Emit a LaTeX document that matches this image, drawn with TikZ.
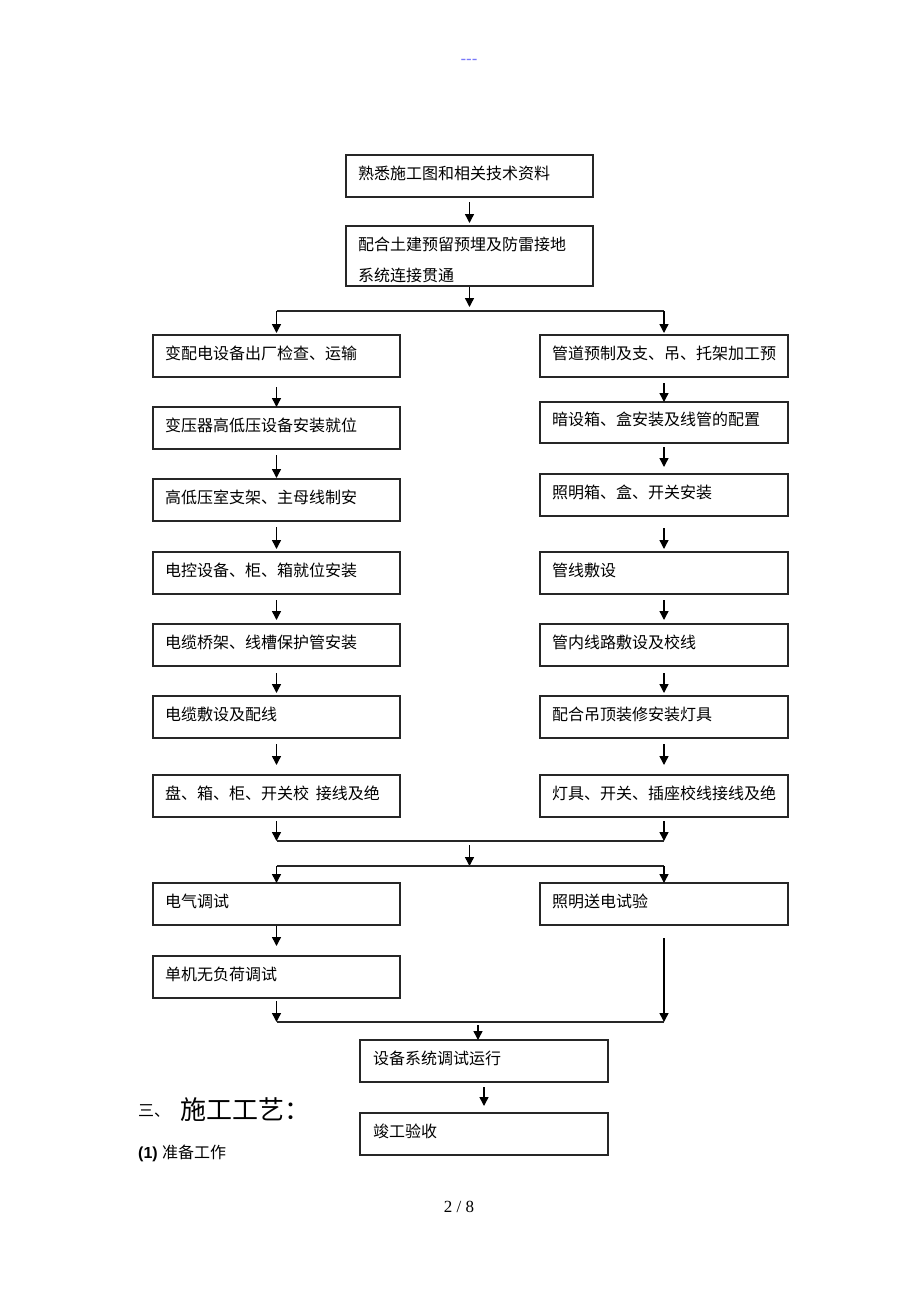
\documentclass[tikz,border=0pt]{standalone}
\usepackage{fontspec}
\setmainfont{Liberation Serif}
\newfontfamily\cjk{Noto Sans CJK SC}
\newfontfamily\lsans{Liberation Sans}
\usetikzlibrary{arrows.meta}
\definecolor{hdrblue}{RGB}{120,120,250}
\begin{document}
\begin{tikzpicture}[x=1pt,y=-1pt,
  boxbase/.style={draw=black!85, line width=1.3pt, rectangle, anchor=north west, outer sep=0pt,
    minimum height=42pt, text width=223pt, inner xsep=12pt, inner ysep=0pt, align=left,
    font=\cjk\fontsize{16}{19}\selectfont},
  box/.style={boxbase, text height=14pt, text depth=8pt},
  rbox/.style={box, text width=224pt},
  arr/.style={draw=black, line width=1.4pt, -{Triangle[length=9pt,width=9pt]}},
  ln/.style={draw=black!85, line width=1.3pt}]
\fill[white] (0,0) rectangle (920,1302);
\useasboundingbox (0,0) rectangle (920,1302);

% header and footer
\node[text=hdrblue, font=\lsans\fontsize{17}{20}\selectfont, anchor=base, inner sep=0pt] (hd) at (469,64) {-{}-{}-};
\node[anchor=base, inner sep=0pt, font=\fontsize{17}{20}\selectfont] (pg) at (459,1212) {2 / 8};

% top boxes
\node[box] (T1) at (346,155) {熟悉施工图和相关技术资料};
\node[boxbase, minimum height=60pt] (T2) at (346,226) {\rule{0pt}{22pt}配合土建预留预埋及防雷接地\\[12pt]系统连接贯通};

% left column
\node[box] (L1) at (153,335) {变配电设备出厂检查、运输};
\node[box] (L2) at (153,407) {变压器高低压设备安装就位};
\node[box] (L3) at (153,479) {高低压室支架、主母线制安};
\node[box] (L4) at (153,552) {电控设备、柜、箱就位安装};
\node[box] (L5) at (153,624) {电缆桥架、线槽保护管安装};
\node[box] (L6) at (153,696) {电缆敷设及配线};
\node[box] (L7) at (153,775) {盘、箱、柜、开关校\hspace{7pt}接线及绝};

% right column
\node[rbox] (R1) at (540,335) {管道预制及支、吊、托架加工预};
\node[rbox, minimum height=41pt] (R2) at (540,402) {暗设箱、盒安装及线管的配置};
\node[rbox] (R3) at (540,474) {照明箱、盒、开关安装};
\node[rbox] (R4) at (540,552) {管线敷设};
\node[rbox] (R5) at (540,624) {管内线路敷设及校线};
\node[rbox] (R6) at (540,696) {配合吊顶装修安装灯具};
\node[rbox] (R7) at (540,775) {灯具、开关、插座校线接线及绝};

% lower boxes
\node[box] (E1) at (153,883) {电气调试};
\node[rbox] (E2) at (540,883) {照明送电试验};
\node[box] (E3) at (153,956) {单机无负荷调试};
\node[rbox, inner xsep=13pt, text width=222pt] (F1) at (360,1040) {设备系统调试运行};
\node[rbox, inner xsep=13pt, text width=222pt] (F2) at (360,1113) {竣工验收};

% section texts
\node[anchor=base west, inner sep=0pt] (sec) at (138,1119)
  {{\cjk\fontsize{16}{19}\selectfont\raisebox{3pt}{三、}}\hspace{10pt}{\cjk\fontsize{26}{30}\selectfont 施工工艺：}};
\node[anchor=base west, inner sep=0pt] (sub) at (138,1158)
  {{\lsans\bfseries\fontsize{16}{19}\selectfont (1) }{\cjk\fontsize{16}{19}\selectfont 准备工作}};

% top connectors
\draw[arr, shorten <=5pt, shorten >=3pt] (T1.south) -- (T2.north);
\coordinate (s1) at (469.5,311);
\coordinate (s1L) at (276.5,311);
\coordinate (s1R) at (664,311);
\draw[arr, shorten <=1pt, shorten >=4pt] (T2.south) -- (s1);
\draw[ln] (s1L) -- (s1R);
\draw[arr, shorten >=2pt] (s1L) -- (L1.north);
\draw[arr, shorten >=2pt] (s1R) -- (R1.north);

% left column connectors
\draw[arr, shorten <=10pt] (L1.south) -- (L2.north);
\draw[arr, shorten <=6pt, shorten >=1pt] (L2.south) -- (L3.north);
\draw[arr, shorten <=6pt, shorten >=3pt] (L3.south) -- (L4.north);
\draw[arr, shorten <=6pt, shorten >=4pt] (L4.south) -- (L5.north);
\draw[arr, shorten <=7pt, shorten >=3pt] (L5.south) -- (L6.north);
\draw[arr, shorten <=6pt, shorten >=10pt] (L6.south) -- (L7.north);

% right column connectors
\draw[arr, shorten <=6pt] (R1.south) -- (R2.north);
\draw[arr, shorten <=4pt, shorten >=7pt] (R2.south) -- (R3.north);
\draw[arr, shorten <=12pt, shorten >=3pt] (R3.south) -- (R4.north);
\draw[arr, shorten <=6pt, shorten >=4pt] (R4.south) -- (R5.north);
\draw[arr, shorten <=7pt, shorten >=3pt] (R5.south) -- (R6.north);
\draw[arr, shorten <=6pt, shorten >=10pt] (R6.south) -- (R7.north);

% first merge and split
\coordinate (m1L) at (276.5,841);
\coordinate (m1R) at (664,841);
\coordinate (m1) at (469.5,841);
\coordinate (s2) at (469.5,866);
\coordinate (s2L) at (276.5,866);
\coordinate (s2R) at (664,866);
\draw[arr, shorten <=4pt] (L7.south) -- (m1L);
\draw[arr, shorten <=4pt] (R7.south) -- (m1R);
\draw[ln] (m1L) -- (m1R);
\draw[arr, shorten <=4pt] (m1) -- (s2);
\draw[ln] (s2L) -- (s2R);
\draw[arr] (s2L) -- (E1.north);
\draw[arr] (s2R) -- (E2.north);

% lower connectors
\draw[arr, shorten <=1pt, shorten >=10pt] (E1.south) -- (E3.north);
\coordinate (m2L) at (276.5,1022);
\coordinate (m2R) at (664,1022);
\coordinate (m2) at (478,1022);
\draw[arr, shorten <=3pt] (E3.south) -- (m2L);
\draw[arr, shorten <=13pt] (E2.south) -- (m2R);
\draw[ln] (m2L) -- (m2R);
\draw[arr, shorten <=3pt] (m2) -- (m2 |- F1.north);
\draw[arr, shorten <=5pt, shorten >=7pt] (F1.south) -- (F2.north);
\end{tikzpicture}
\end{document}
